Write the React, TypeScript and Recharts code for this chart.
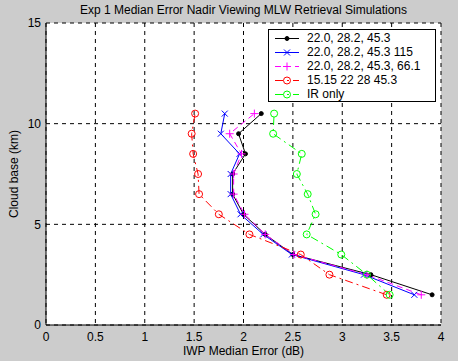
import React from 'react';
import { LineChart, Line, XAxis, YAxis, CartesianGrid } from 'recharts';

const cloudBase = [1.5, 2.5, 3.5, 4.5, 5.5, 6.5, 7.5, 8.5, 9.5, 10.5];
const seriesA = [3.91, 3.29, 2.5, 2.22, 2.0, 1.89, 1.89, 2.02, 1.95, 2.18];
const seriesB = [3.73, 3.22, 2.49, 2.2, 1.97, 1.87, 1.87, 1.96, 1.77, 1.81];
const seriesC = [3.8, 3.25, 2.51, 2.22, 2.01, 1.9, 1.9, 1.98, 1.86, 2.11];
const seriesD = [3.45, 2.87, 2.58, 2.06, 1.75, 1.55, 1.54, 1.49, 1.475, 1.51];
const seriesE = [3.48, 3.25, 2.99, 2.64, 2.73, 2.65, 2.54, 2.59, 2.3, 2.31];
const seriesNames = ['22.0, 28.2, 45.3', '22.0, 28.2, 45.3 115', '22.0, 28.2, 45.3, 66.1', '15.15 22 28 45.3', 'IR only'];
const xTicks = [0, 0.5, 1, 1.5, 2, 2.5, 3, 3.5, 4];
const yTicks = [0, 5, 10, 15];

type Kind = 'dot' | 'x' | 'plus' | 'circle';
const styles: { color: string; dash?: string; kind: Kind }[] = [
  { color: '#000000', kind: 'dot' },
  { color: '#0000ff', kind: 'x' },
  { color: '#ff00ff', kind: 'plus', dash: '6 4' },
  { color: '#ff0000', kind: 'circle', dash: '8 4 2 4' },
  { color: '#00ff00', kind: 'circle', dash: '8 4 2 4' },
];
const allValues = [seriesA, seriesB, seriesC, seriesD, seriesE];
const series = allValues.map((vals, i) => ({
  name: seriesNames[i],
  ...styles[i],
  data: cloudBase.map((y, j) => ({ x: vals[j], y })),
}));

const FONT = '"Liberation Sans", Arial, Helvetica, sans-serif';

function Marker({ kind, color, cx, cy }: { kind: Kind; color: string; cx: number; cy: number }) {
  if (kind === 'dot') return <circle cx={cx} cy={cy} r={2} fill={color} stroke={color} />;
  if (kind === 'x')
    return (
      <g stroke={color} strokeWidth={1}>
        <line x1={cx - 3} y1={cy - 3} x2={cx + 3} y2={cy + 3} />
        <line x1={cx - 3} y1={cy + 3} x2={cx + 3} y2={cy - 3} />
      </g>
    );
  if (kind === 'plus')
    return (
      <g stroke={color} strokeWidth={1}>
        <line x1={cx - 4} y1={cy} x2={cx + 4} y2={cy} />
        <line x1={cx} y1={cy - 4} x2={cx} y2={cy + 4} />
      </g>
    );
  return <circle cx={cx} cy={cy} r={3.5} fill="none" stroke={color} strokeWidth={1} />;
}

const makeDot = (kind: Kind, color: string) => (props: any) => {
  const { cx, cy, index } = props;
  if (cx == null || cy == null) return <g key={`e-${index}`} />;
  return (
    <g key={`d-${index}`}>
      <Marker kind={kind} color={color} cx={cx} cy={cy} />
    </g>
  );
};

export default function App() {
  const tickStyle = { fontSize: 12, fill: '#000', fontFamily: FONT };
  return (
    <div style={{ position: 'absolute', left: 0, top: 0, width: 458, height: 361, background: '#cccccc', fontFamily: FONT }}>
      <LineChart width={458} height={361} margin={{ top: 23, right: 17, bottom: 0, left: 0 }}>
        <CartesianGrid stroke="#000" strokeDasharray="4 4" fill="#ffffff" fillOpacity={1} />
        <XAxis
          dataKey="x"
          type="number"
          domain={[0, 4]}
          ticks={xTicks}
          allowDataOverflow
          height={36}
          tickLine={false}
          tickSize={5}
          tickMargin={2}
          tick={tickStyle}
          axisLine={{ stroke: '#000' }}
          interval={0}
        />
        <YAxis
          dataKey="y"
          type="number"
          domain={[0, 15]}
          ticks={yTicks}
          allowDataOverflow
          width={46}
          tickLine={false}
          tickSize={4}
          tickMargin={1}
          tick={tickStyle}
          axisLine={{ stroke: '#000' }}
          interval={0}
        />
        {series.map((s) => (
          <Line
            key={s.name}
            data={s.data}
            dataKey="y"
            type="linear"
            stroke={s.color}
            strokeWidth={1}
            strokeDasharray={s.dash}
            dot={makeDot(s.kind, s.color)}
            activeDot={false}
            isAnimationActive={false}
            name={s.name}
          />
        ))}
      </LineChart>
      <div style={{ position: 'absolute', left: 0, width: 487, top: 3, fontSize: 12, lineHeight: '14px', textAlign: 'center', color: '#000', whiteSpace: 'nowrap' }}>
        Exp 1 Median Error Nadir Viewing MLW Retrieval Simulations
      </div>
      <div style={{ position: 'absolute', left: 0, width: 487, top: 344, fontSize: 12, lineHeight: '14px', textAlign: 'center', color: '#000', whiteSpace: 'nowrap' }}>
        IWP Median Error (dB)
      </div>
      <div style={{ position: 'absolute', left: 14, top: 174, fontSize: 12, lineHeight: '14px', color: '#000', whiteSpace: 'nowrap', transform: 'translate(-50%, -50%) rotate(-90deg)' }}>
        Cloud base (km)
      </div>
      <div style={{ position: 'absolute', left: 268, top: 29, width: 166, height: 71, background: '#fff', border: '1px solid #000' }}>
        {series.map((s, i) => (
          <div key={s.name} style={{ position: 'absolute', left: 0, top: 1 + i * 14, height: 14, width: 166 }}>
            <svg width={36} height={14} style={{ position: 'absolute', left: 0, top: 0 }}>
              <line x1={6} y1={7.5} x2={30} y2={7.5} stroke={s.color} strokeWidth={1} strokeDasharray={s.dash} />
              <Marker kind={s.kind} color={s.color} cx={18} cy={7.5} />
            </svg>
            <span style={{ position: 'absolute', left: 38, top: 0, fontSize: 12, lineHeight: '14px', color: '#000', whiteSpace: 'nowrap' }}>{s.name}</span>
          </div>
        ))}
      </div>
    </div>
  );
}
